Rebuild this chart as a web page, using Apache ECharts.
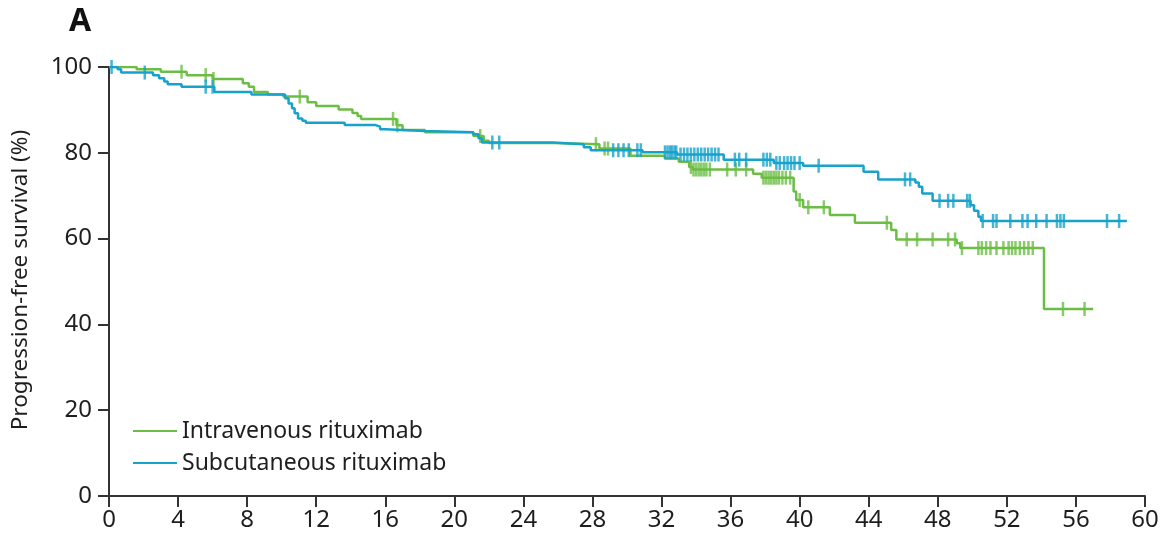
<!DOCTYPE html>
<html>
<head>
<meta charset="utf-8">
<script src="https://cdn.jsdelivr.net/npm/echarts@6/dist/echarts.min.js"></script>
<style>html,body{margin:0;padding:0;background:#fff;}#c{width:1170px;height:538px;}</style>
</head>
<body>
<div id="c"></div>
<script>
// Kaplan-Meier steps: [month, survival %] (level starting at that month)
const ivSteps = [
  [0,100],[1.6,99.5],[3.0,98.9],[4.5,98.1],[6.0,97.2],[7.75,96.2],[8.1,95.4],[8.4,94.2],
  [9.2,93.6],[10.1,93.1],[11.5,91.8],[12.0,90.9],[13.3,90.1],[14.1,89.3],[14.4,88.6],
  [14.6,87.9],[16.65,86.4],[17.0,85.3],[18.3,84.8],[21.1,83.9],[21.7,82.8],[22.0,82.3],
  [25.7,82.0],[28.4,81.0],[30.2,79.3],[32.2,78.7],[33.0,77.9],[33.6,76.7],[33.8,76.1],
  [37.3,75.1],[37.8,74.2],[39.65,71.0],[39.8,69.0],[40.2,67.3],[41.75,65.5],[43.2,63.7],
  [45.3,62.0],[45.6,59.8],[49.1,58.9],[49.3,57.8],[54.15,43.6],[57.0,43.6]
];
const scSteps = [
  [0,100],[0.5,99.5],[0.7,98.7],[2.55,98.1],[2.9,97.4],[3.2,96.6],[3.4,96.0],[4.2,95.4],
  [6.1,94.2],[8.25,93.6],[10.2,92.7],[10.4,91.5],[10.6,90.4],[10.75,89.2],[10.95,88.0],
  [11.2,87.5],[11.4,87.0],[13.65,86.5],[15.4,86.1],[15.7,85.5],[16.0,85.1],[18.3,84.8],
  [21.1,84.3],[21.4,83.4],[21.6,82.4],[25.7,82.0],[27.5,81.3],[27.9,80.6],[30.9,80.1],
  [32.9,79.6],[35.6,78.4],[38.5,77.6],[40.2,77.0],[43.7,75.6],[44.55,73.8],[46.7,73.1],
  [46.9,72.1],[47.1,70.5],[47.7,68.8],[49.9,67.8],[50.1,66.5],[50.35,65.1],[50.5,64.1],
  [58.95,64.1]
];
// Censoring times (months)
const ivCensor = [4.2,5.6,6.05,11.05,16.45,16.7,21.5,28.2,28.7,28.9,33.7,33.85,34.0,34.15,
  34.3,34.45,34.6,34.8,35.8,36.3,36.9,37.9,38.05,38.2,38.35,38.5,38.65,38.8,39.0,39.2,39.45,
  40.0,40.5,41.4,45.05,46.2,46.8,47.7,48.6,49.0,49.4,50.35,50.55,50.8,51.05,51.4,51.8,52.1,
  52.3,52.5,52.75,53.0,53.25,53.5,55.25,56.5];
const scCensor = [0.15,2.07,5.6,6.0,22.2,22.6,29.2,29.5,29.8,30.1,30.6,30.8,32.2,32.35,32.5,
  32.6,32.75,32.85,33.1,33.3,33.5,33.7,33.9,34.1,34.3,34.5,34.7,34.9,35.1,35.3,36.25,36.5,
  36.9,37.9,38.1,38.3,38.65,38.85,39.1,39.3,39.5,39.7,40.0,41.1,46.1,46.4,48.1,48.6,48.9,
  49.7,49.85,50.6,51.2,51.4,52.2,52.9,53.2,53.7,54.3,54.9,55.1,55.3,57.8,58.5];
const seriesNames = ['Intravenous rituximab','Subcutaneous rituximab'];
const xTicks = {min:0, max:60, interval:4};
const yTicks = {min:0, max:100, interval:20};

const GREEN = '#6cbd45', BLUE = '#17a2cc', INK = '#1e1e1e';
const FONT = 'Noto Sans';

function levelAt(steps, t){
  let s = steps[0][1];
  for (const p of steps){ if (p[0] <= t) s = p[1]; else break; }
  return s;
}
const censorPts = (steps, times) => times.map(t => [t, levelAt(steps, t)]);

const chart = echarts.init(document.getElementById('c'), null, {renderer:'canvas'});
const axisCommon = {
  type:'value',
  axisLine:{show:true, lineStyle:{color:'#333', width:2}},
  axisTick:{show:true, inside:false, length:11, lineStyle:{color:'#333', width:2}},
  splitLine:{show:false},
  axisLabel:{color:INK, fontFamily:FONT, fontSize:24}
};
chart.setOption({
  animation:false,
  backgroundColor:'#fff',
  grid:{left:109, right:25, top:67, bottom:42, containLabel:false},
  xAxis:Object.assign({}, axisCommon, {
    min:xTicks.min, max:xTicks.max, interval:xTicks.interval,
    axisLabel:Object.assign({}, axisCommon.axisLabel, {margin:12, showMaxLabel:true, showMinLabel:true})
  }),
  yAxis:Object.assign({}, axisCommon, {
    min:yTicks.min, max:yTicks.max, interval:yTicks.interval,
    axisLabel:Object.assign({}, axisCommon.axisLabel, {margin:17})
  }),
  legend:{
    data:seriesNames, orient:'vertical', left:133, top:416, padding:0,
    icon:'rect', itemWidth:44, itemHeight:2, itemGap:2,
    textStyle:{color:INK, fontFamily:FONT, fontSize:23, lineHeight:30}
  },
  graphic:[
    {type:'text', left:69, top:6, style:{text:'A', fontFamily:FONT, fontSize:32, fontWeight:'bold', fill:'#111'}},
    {type:'text', x:21, y:280, rotation:Math.PI/2,
     style:{text:'Progression-free survival (%)', fontFamily:FONT, fontSize:22.5, fill:INK,
            textAlign:'center', textVerticalAlign:'middle'}}
  ],
  series:[
    {name:seriesNames[0], type:'line', step:'end', data:ivSteps, symbol:'none',
     lineStyle:{color:GREEN, width:2.5}, itemStyle:{color:GREEN}, z:2},
    {name:seriesNames[1], type:'line', step:'end', data:scSteps, symbol:'none',
     lineStyle:{color:BLUE, width:2.5}, itemStyle:{color:BLUE}, z:3},
    {name:'iv-censor', type:'scatter', data:censorPts(ivSteps, ivCensor), symbol:'rect',
     symbolSize:[2.5,14], itemStyle:{color:GREEN}, z:2},
    {name:'sc-censor', type:'scatter', data:censorPts(scSteps, scCensor), symbol:'rect',
     symbolSize:[2.5,14], itemStyle:{color:BLUE}, z:3}
  ]
});
</script>
</body>
</html>
